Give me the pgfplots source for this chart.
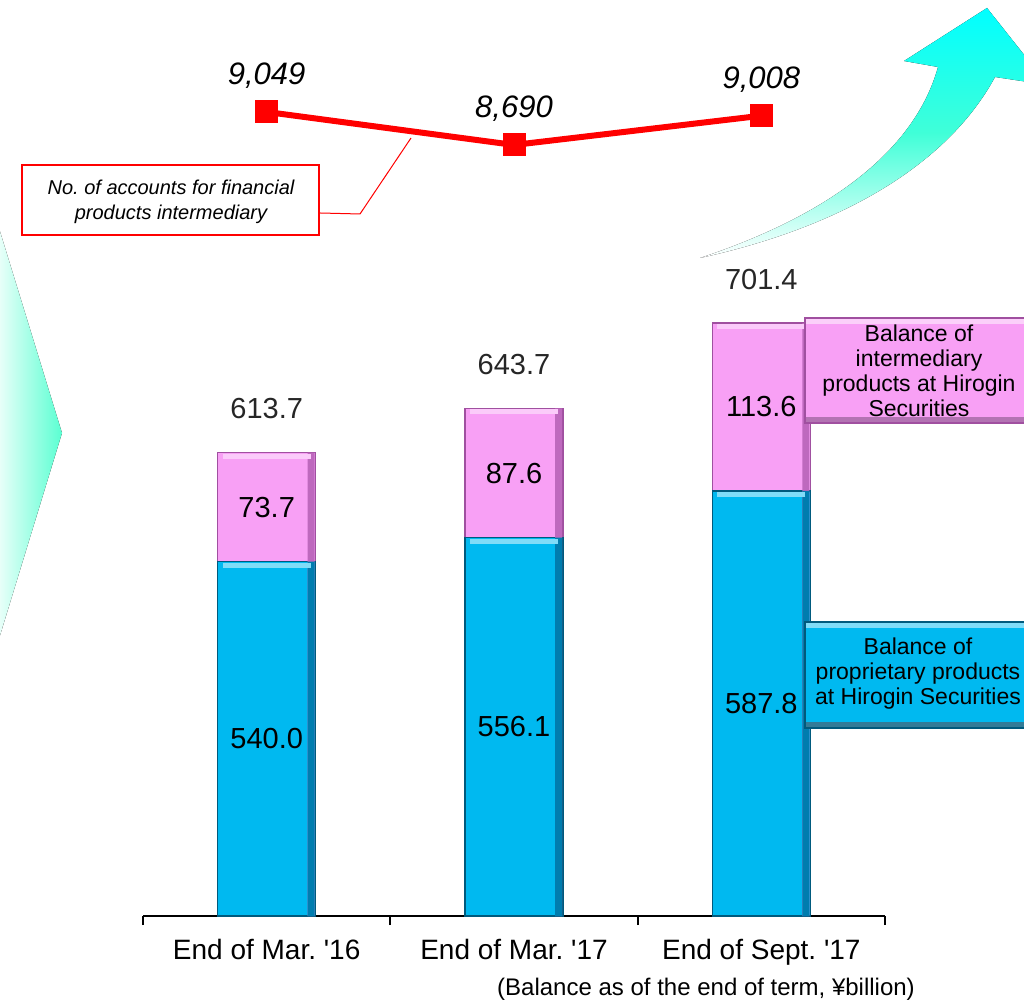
\documentclass[border=0pt]{standalone}
\usepackage{pgfplots}
\pgfplotsset{compat=1.18}
\usepackage{pgfplotstable}
\usepackage{fontspec}
\setmainfont{Liberation Sans}
\frenchspacing

\definecolor{barblue}{RGB}{0,185,240}
\definecolor{barblueedge}{RGB}{0,90,125}
\definecolor{barblueside}{RGB}{0,125,175}
\definecolor{barpink}{RGB}{248,160,245}
\definecolor{barpinkedge}{RGB}{160,80,160}
\definecolor{barpinkside}{RGB}{190,105,190}
\definecolor{mint}{RGB}{90,255,210}
\definecolor{aqua}{RGB}{64,255,216}
\definecolor{linered}{RGB}{255,0,0}

% balances (billion yen): proprietary and intermediary products
\pgfplotstableread{
x prop inter
0 540.0 73.7
1 556.1 87.6
2 587.8 113.6
}\balance

% number of accounts for financial products intermediary
\pgfplotstableread{
x accounts
0 9049
1 8690
2 9008
}\accounts

\pgfplotsset{
  barframe/.style={
    at={(143pt,85pt)}, anchor=south west,
    scale only axis, width=742pt, height=605.6pt,
    xmin=-0.5, xmax=2.5, ymin=300, ymax=710,
  },
  valuelabel/.style={
    draw=none,
    nodes near coords={\pgfmathprintnumber[fixed,fixed zerofill,precision=1,assume math mode=true]{\pgfplotspointmeta}},
  },
}

\begin{document}
\begin{tikzpicture}[x=1pt,y=1pt]
\useasboundingbox (0,0) rectangle (1024,1001);

\begin{scope}
\clip (0,0) rectangle (1024,1001);
% chevron on the left
\fill[left color=mint!12, right color=mint] (-2,776) -- (62,568) -- (-2,359) -- cycle;
% rising arrow
\fill[top color=cyan, bottom color=white, middle color=aqua]
  (700,743) .. controls (830,786) and (915,851) .. (938,934)
  -- (904,940) -- (987,993) -- (1048,916) -- (995,924)
  .. controls (950,841) and (850,776) .. (700,743) -- cycle;
\end{scope}

% stacked balances
\begin{axis}[
  barframe,
  ybar stacked, bar width=98pt,
  axis x line*=bottom, axis y line=none,
  x axis line style={line width=2.5pt,-},
  xtick={-0.5,0.5,1.5,2.5}, xticklabels={},
  tick align=outside, major tick length=9pt,
  xtick style={line width=2pt,black},
  extra x ticks={0,1,2},
  extra x tick labels={End of Mar. \textquotesingle16, End of Mar. \textquotesingle17, End of Sept. \textquotesingle17},
  extra x tick style={major tick length=0pt},
  xticklabel style={font=\fontsize{28}{30}\selectfont, yshift=-20pt},
]
\addplot[fill=barblue, draw=barblueedge, line width=1.5pt] table[x=x,y=prop]{\balance};
\addplot[fill=barpink, draw=barpinkedge, line width=1.5pt] table[x=x,y=inter]{\balance};
\end{axis}

% bevel: shaded right side and light top band of each segment
\begin{axis}[barframe, hide axis, ybar, bar width=7pt]
\addplot[fill=barpinkside, draw=none, bar shift=44.5pt] table[x=x, y expr=\thisrow{prop}+\thisrow{inter}]{\balance};
\addplot[fill=barblueside, draw=none, bar shift=44.5pt] table[x=x, y=prop]{\balance};
\addplot[only marks, mark=-, mark size=44pt, mark options={line width=5pt, draw=barpink!55!white}] table[x=x, y expr=\thisrow{prop}+\thisrow{inter}-2.4]{\balance};
\addplot[only marks, mark=-, mark size=44pt, mark options={line width=5pt, draw=barblue!50!white}] table[x=x, y expr=\thisrow{prop}-2.4]{\balance};
\end{axis}

% value labels
\begin{axis}[barframe, hide axis, clip=false,
  every node near coord/.append style={font=\fontsize{29}{30}\selectfont, text=black}]
\addplot[valuelabel, point meta=explicit,
  every node near coord/.append style={anchor=center}]
  table[x=x, y expr={(300+\thisrow{prop})/2}, meta=prop]{\balance};
\addplot[valuelabel, point meta=explicit,
  every node near coord/.append style={anchor=center}]
  table[x=x, y expr={\thisrow{prop}+\thisrow{inter}/2}, meta=inter]{\balance};
\addplot[valuelabel, point meta=y,
  every node near coord/.append style={anchor=base, yshift=34pt, text=black!85}]
  table[x=x, y expr={\thisrow{prop}+\thisrow{inter}}]{\balance};
\end{axis}

% accounts line
\begin{axis}[
  at={(143pt,792.6pt)}, anchor=south west,
  scale only axis, width=742pt, height=137.9pt,
  xmin=-0.5, xmax=2.5, ymin=8000, ymax=9500,
  hide axis, clip=false,
]
\addplot[linered, line width=6pt, mark=square*, mark size=11pt,
  mark options={line width=0pt, fill=linered},
  nodes near coords={\pgfmathprintnumber[1000 sep={,},assume math mode=true]{\pgfplotspointmeta}},
  every node near coord/.append style={font=\fontsize{31}{32}\selectfont\itshape, text=black, anchor=base, yshift=27pt}]
  table[x=x,y=accounts]{\accounts};
\end{axis}

% callout for the line
\draw[linered, line width=1pt] (320,788) -- (360,787) -- (411,863);
\draw[linered, line width=1.3pt, fill=white] (22,836) rectangle (319,766);
\node[font=\fontsize{20}{24.5}\selectfont\itshape, align=center] at (171,799)
  {No. of accounts for financial\\products intermediary};

% series captions
\begin{scope}
\clip (0,0) rectangle (1024,1001);
\fill[barpink] (805,683) rectangle (1034,578);
\fill[barpink!50!white] (805,683) rectangle (1034,677);
\fill[barpinkedge!80] (805,584) rectangle (1034,578);
\draw[barpinkedge, line width=1.2pt] (805,683) rectangle (1034,578);
\fill[barblue] (805,379) rectangle (1034,273);
\fill[barblue!50!white] (805,379) rectangle (1034,373);
\fill[barblueedge!80] (805,279) rectangle (1034,273);
\draw[barblueedge, line width=1.2pt] (805,379) rectangle (1034,273);
\end{scope}
\node[font=\fontsize{23}{25}\selectfont, align=center] at (919,630.5)
  {Balance of\\intermediary\\products at Hirogin\\Securities};
\node[font=\fontsize{23}{25}\selectfont, align=center] at (918,327)
  {Balance of\\proprietary products\\at Hirogin Securities};

\node[font=\fontsize{24}{26}\selectfont] at (706,12)
  {(Balance as of the end of term, ¥billion)};
\end{tikzpicture}
\end{document}
